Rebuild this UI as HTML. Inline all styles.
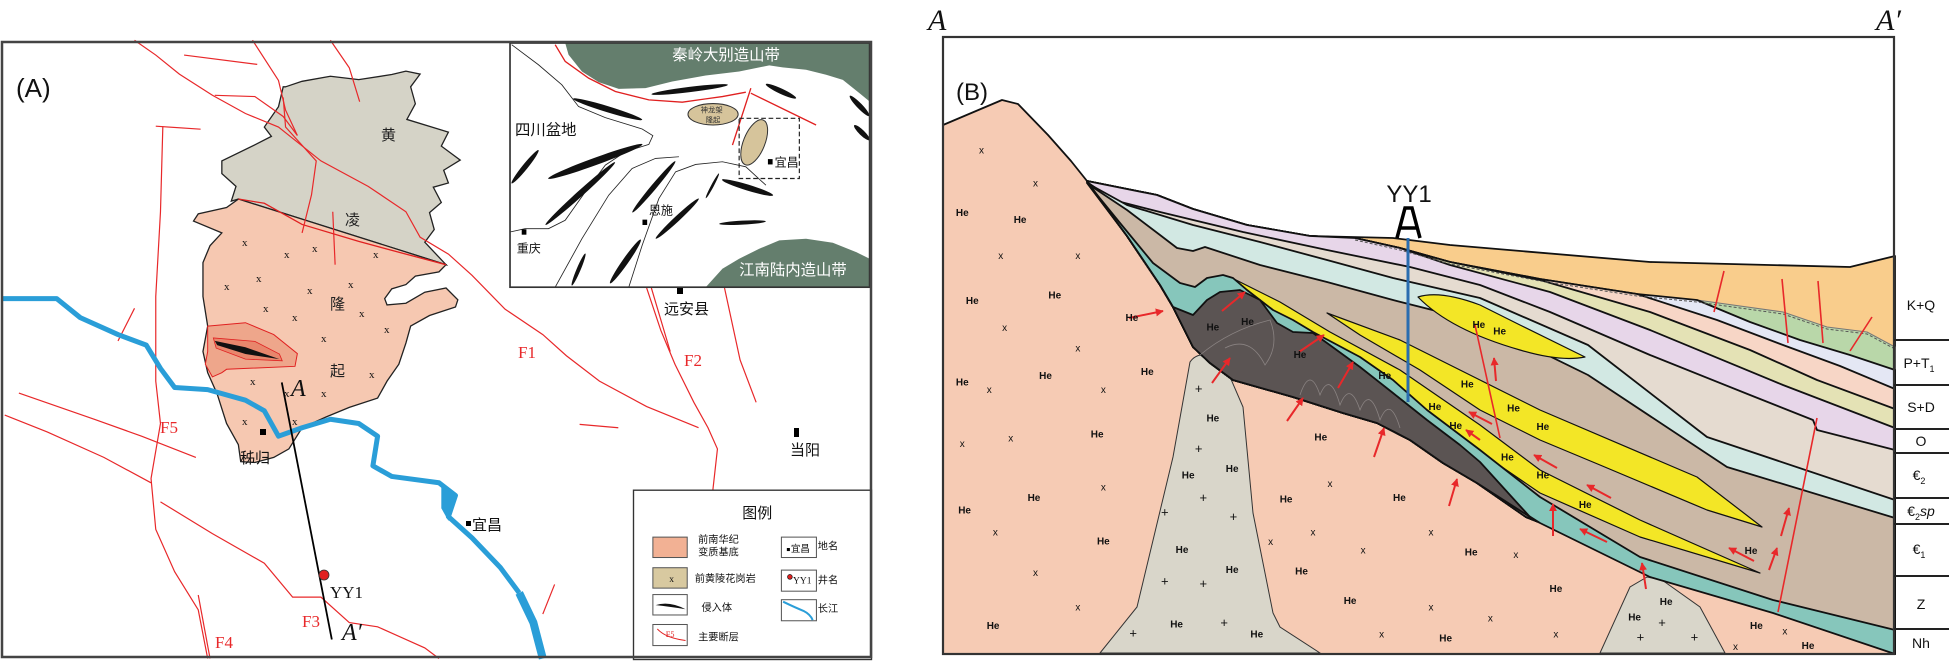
<!DOCTYPE html>
<html><head><meta charset="utf-8"><style>
html,body{margin:0;padding:0;background:#fff;}
svg{display:block;}
.cj{font-family:"Liberation Sans","Noto Sans CJK SC",sans-serif;}
.sr{font-family:"Liberation Serif","Noto Serif CJK SC",serif;}
.he{font-family:"Liberation Sans",sans-serif;font-size:10px;font-weight:bold;fill:#111;}
</style></head><body>
<svg width="1949" height="664" viewBox="0 0 1949 664" xmlns="http://www.w3.org/2000/svg">
<rect width="1949" height="664" fill="#fff"/>
<defs>
<marker id="ah" viewBox="0 0 10 10" refX="9" refY="5" markerWidth="4" markerHeight="4" orient="auto"><path d="M0,0 L10,5 L0,10 z" fill="#e8282a"/></marker>
</defs>

<!-- ================= PANEL A ================= -->
<g transform="scale(0.4720,0.4235)">
 <polygon vector-effect="non-scaling-stroke" points="605,205 640,192 700,180 760,188 830,176 860,168 890,175 870,205 880,245 862,282 950,312 935,345 975,378 940,402 950,432 918,442 935,478 910,502 920,542 900,572 945,625 505,470 490,475 500,440 470,410 470,380 540,342 575,322 560,300 590,252 600,205" fill="#d5d3c7" stroke="#222" stroke-width="1.3"/>
 <polygon vector-effect="non-scaling-stroke" points="505,470 945,625 930,642 880,652 860,672 830,682 815,705 820,720 860,716 900,690 945,680 970,708 965,725 910,745 870,770 860,810 845,860 820,900 800,940 740,962 690,985 640,1010 612,1060 580,1080 540,1092 510,1090 505,1050 480,1000 460,930 440,880 430,830 440,770 430,700 430,620 445,580 470,550 410,522 420,505 480,490" fill="#f6c8b1" stroke="#222" stroke-width="1.3"/>
 <polyline vector-effect="non-scaling-stroke" points="505,470 560,480 640,530 760,570 860,600 945,625" fill="none" stroke="#e02020" stroke-width="1.3"/>
 <polygon vector-effect="non-scaling-stroke" points="440,770 520,762 580,790 630,835 625,865 480,872 470,880 450,890 435,860 440,830" fill="#eea68b" stroke="#e02020" stroke-width="1"/>
 <polygon vector-effect="non-scaling-stroke" points="452,798 540,806 592,836 598,852 520,848 458,822" fill="#e8866c" stroke="#e02020" stroke-width="0.8"/>
 <polygon points="455,805 520,820 592,848 520,836 460,815" fill="#111"/>
 <!-- faults -->
 <g fill="none" stroke="#e8282a" stroke-width="1.2">
  <polyline vector-effect="non-scaling-stroke" points="285,95 330,130 380,175 450,225 520,268 590,300 680,380 780,440 860,500 890,560 950,600 1000,650 1070,730 1150,790 1200,840 1270,900 1370,960 1480,1010"/>
  <polyline vector-effect="non-scaling-stroke" points="535,95 590,190 605,260 630,320"/>
  <polyline vector-effect="non-scaling-stroke" points="600,230 605,300 670,380 660,460 640,550"/>
  <polyline vector-effect="non-scaling-stroke" points="700,95 740,160 762,240"/>
  <polyline vector-effect="non-scaling-stroke" points="390,130 545,152"/>
  <polyline vector-effect="non-scaling-stroke" points="455,225 540,228 600,275 630,320"/>
  <polyline vector-effect="non-scaling-stroke" points="705,500 710,625"/>
  <polyline vector-effect="non-scaling-stroke" points="330,298 425,305"/>
  <polyline vector-effect="non-scaling-stroke" points="345,298 340,500 330,700 330,900 340,1000 320,1130 330,1250 370,1350 420,1440 440,1555"/>
  <polyline vector-effect="non-scaling-stroke" points="285,728 250,805"/>
  <polyline vector-effect="non-scaling-stroke" points="40,928 200,990 300,1030 415,1080"/>
  <polyline vector-effect="non-scaling-stroke" points="10,980 100,1020 220,1080 320,1140"/>
  <polyline vector-effect="non-scaling-stroke" points="340,1185 450,1260 560,1330 620,1410 680,1410 740,1470 800,1480 900,1530 930,1555"/>
  <polyline vector-effect="non-scaling-stroke" points="420,1405 445,1555"/>
  <polyline vector-effect="non-scaling-stroke" points="1228,1002 1310,1010"/>
  <polyline vector-effect="non-scaling-stroke" points="1175,1380 1150,1450"/>
  <polyline vector-effect="non-scaling-stroke" points="1370,680 1400,780 1430,860 1470,950 1500,1010 1520,1060 1510,1160"/>
  <polyline vector-effect="non-scaling-stroke" points="1380,680 1420,830"/>
  <polyline vector-effect="non-scaling-stroke" points="1535,680 1568,850 1602,950"/>
 </g>
 <!-- river -->
 <polyline vector-effect="non-scaling-stroke" points="5,705 120,705 170,750 250,790 310,815 340,870 370,915 440,920 520,945 560,970 590,1030 640,1010 700,990 760,1000 800,1030 790,1100 830,1125 930,1140 965,1170 950,1220 1000,1270 1060,1340 1100,1400" fill="none" stroke="#2a9ed8" stroke-width="5" stroke-linejoin="round"/>
 <polyline vector-effect="non-scaling-stroke" points="1100,1400 1130,1470 1150,1555" fill="none" stroke="#2a9ed8" stroke-width="8"/>
 <polygon points="935,1150 965,1170 950,1230 935,1200" fill="#2a9ed8"/>
 <!-- section line -->
 <line vector-effect="non-scaling-stroke" x1="597" y1="903" x2="703" y2="1510" stroke="#000" stroke-width="1.8"/>
</g>
<!-- x marks panel A -->
<g class="sr" font-size="11" fill="#111">
 <text x="242" y="246">x</text><text x="284" y="258">x</text><text x="312" y="252">x</text><text x="373" y="258">x</text>
 <text x="224" y="290">x</text><text x="256" y="282">x</text><text x="307" y="294">x</text><text x="348" y="288">x</text>
 <text x="263" y="312">x</text><text x="292" y="321">x</text><text x="359" y="317">x</text><text x="384" y="333">x</text>
 <text x="321" y="342">x</text><text x="250" y="385">x</text><text x="369" y="378">x</text><text x="321" y="397">x</text>
 <text x="284" y="397">x</text><text x="242" y="425">x</text><text x="292" y="425">x</text>
</g>
<g class="cj" font-size="15" fill="#222">
 <text x="381" y="140">黄</text><text x="345" y="225">凌</text><text x="330" y="309">隆</text><text x="330" y="376">起</text>
</g>
<rect x="260" y="429" width="6" height="6" fill="#000"/>
<text x="240" y="463" class="cj" font-size="15" fill="#111">秭归</text>
<rect x="466" y="521" width="5" height="5" fill="#000"/>
<text x="472" y="530" class="cj" font-size="15" fill="#111">宜昌</text>
<rect x="677" y="288" width="6" height="6" fill="#000"/>
<text x="664" y="314" class="cj" font-size="15" fill="#111">远安县</text>
<rect x="794" y="428" width="5" height="9" fill="#000"/>
<text x="790" y="455" class="cj" font-size="15" fill="#111">当阳</text>
<g class="sr" font-size="17" fill="#e8282a">
 <text x="518" y="358">F1</text><text x="684" y="366">F2</text><text x="302" y="627">F3</text><text x="215" y="648">F4</text><text x="160" y="433">F5</text>
</g>
<circle cx="324" cy="575" r="5" fill="#e02020" stroke="#333" stroke-width="0.8"/>
<text x="330" y="598" class="sr" font-size="17" fill="#111">YY1</text>
<text x="291" y="396" class="sr" font-size="24" font-style="italic" fill="#111">A</text>
<text x="342" y="640" class="sr" font-size="24" font-style="italic" fill="#111">A′</text>
<text x="16" y="97" class="cj" font-size="26" fill="#111">(A)</text>

<!-- inset -->
<g transform="translate(505,38) scale(0.3345)">
 <rect x="15" y="15" width="1075" height="730" fill="#fff"/>
 <polygon points="180,15 1090,15 1090,190 1060,165 1010,125 960,110 900,95 830,88 790,82 700,100 600,112 500,130 420,150 340,152 280,132 230,100 190,50" fill="#647e6d"/>
 <polygon points="600,745 650,690 700,660 760,630 820,605 900,600 980,612 1050,640 1090,660 1090,745" fill="#647e6d"/>
 <g fill="none" stroke="#222" stroke-width="2.5">
  <polyline points="20,20 100,80 170,140 220,205 300,238 410,272 442,292 430,318 360,340 300,380 240,460 180,545 130,570 60,570 15,580"/>
  <polyline points="150,745 230,600 310,470 380,390 450,360 520,355"/>
  <polyline points="370,745 410,620 460,480 510,400 570,378 650,370 720,385 780,440"/>
 </g>
 <g fill="#111">
  <ellipse cx="552" cy="154" rx="115" ry="8" transform="rotate(-7 552 154)"/>
  <ellipse cx="825" cy="159" rx="50" ry="8" transform="rotate(25 825 159)"/>
  <ellipse cx="307" cy="213" rx="108" ry="9" transform="rotate(17 307 213)"/>
  <ellipse cx="1060" cy="203" rx="42" ry="8" transform="rotate(46 1060 203)"/>
  <ellipse cx="1067" cy="283" rx="32" ry="8" transform="rotate(44 1067 283)"/>
  <ellipse cx="60" cy="385" rx="64" ry="8" transform="rotate(-51 60 385)"/>
  <ellipse cx="270" cy="369" rx="150" ry="11" transform="rotate(-20 270 369)"/>
  <ellipse cx="225" cy="465" rx="140" ry="9" transform="rotate(-42 225 465)"/>
  <ellipse cx="445" cy="445" rx="100" ry="8" transform="rotate(-50 445 445)"/>
  <ellipse cx="620" cy="442" rx="42" ry="4" transform="rotate(-62 620 442)"/>
  <ellipse cx="725" cy="447" rx="80" ry="9" transform="rotate(17 725 447)"/>
  <ellipse cx="515" cy="540" rx="88" ry="8" transform="rotate(-43 515 540)"/>
  <ellipse cx="360" cy="668" rx="80" ry="9" transform="rotate(-55 360 668)"/>
  <ellipse cx="220" cy="692" rx="52" ry="6" transform="rotate(-67 220 692)"/>
  <ellipse cx="710" cy="552" rx="70" ry="6" transform="rotate(-3 710 552)"/>
 </g>
 <polyline points="150,20 180,70 250,120 330,160 430,185 530,192 600,182 650,175 720,162" fill="none" stroke="#e02020" stroke-width="4"/>
 <line x1="735" y1="150" x2="680" y2="320" stroke="#e02020" stroke-width="4"/>
 <line x1="735" y1="165" x2="930" y2="260" stroke="#e02020" stroke-width="4"/>
 <ellipse cx="622" cy="228" rx="75" ry="32" fill="#d6c49b" stroke="#333" stroke-width="3"/>
 <ellipse cx="745" cy="312" rx="32" ry="72" fill="#d6c49b" stroke="#333" stroke-width="3" transform="rotate(22 745 312)"/>
 <text x="585" y="222" class="cj" font-size="22" fill="#333">神龙架</text><text x="600" y="252" class="cj" font-size="22" fill="#333">隆起</text>
 <rect x="700" y="240" width="180" height="180" fill="none" stroke="#222" stroke-width="3.5" stroke-dasharray="14,8"/>
 <rect x="786" y="362" width="14" height="16" fill="#000"/>
 <rect x="411" y="543" width="14" height="16" fill="#000"/>
 <rect x="50" y="572" width="14" height="16" fill="#000"/>
 <text x="500" y="66" class="cj" font-size="46" fill="#fff">秦岭大别造山带</text>
 <text x="30" y="290" class="cj" font-size="46" fill="#111">四川盆地</text>
 <text x="806" y="384" class="cj" font-size="36" fill="#111">宜昌</text>
 <text x="430" y="528" class="cj" font-size="36" fill="#111">恩施</text>
 <text x="35" y="642" class="cj" font-size="36" fill="#111">重庆</text>
 <text x="700" y="708" class="cj" font-size="46" fill="#fff">江南陆内造山带</text>
 <rect x="15" y="15" width="1075" height="730" fill="none" stroke="#333" stroke-width="5"/>
</g>

<!-- legend -->
<g transform="translate(625,480) scale(0.34)">
 <rect x="25" y="30" width="700" height="498" fill="#fff" stroke="#333" stroke-width="4"/>
 <text x="345" y="112" class="cj" font-size="44" fill="#111">图例</text>
 <rect x="82" y="168" width="101" height="60" fill="#f2b194" stroke="#555" stroke-width="3"/>
 <rect x="82" y="258" width="101" height="60" fill="#d8c9a0" stroke="#555" stroke-width="3"/>
 <text x="130" y="300" class="sr" font-size="28" fill="#111">x</text>
 <rect x="82" y="337" width="101" height="60" fill="#fff" stroke="#555" stroke-width="3"/>
 <path d="M90,368 Q130,355 178,380 Q130,372 90,368Z" fill="#111"/>
 <rect x="82" y="425" width="101" height="62" fill="#fff" stroke="#555" stroke-width="3"/>
 <path d="M95,438 Q120,465 178,472" fill="none" stroke="#e02020" stroke-width="3"/>
 <text x="120" y="462" class="sr" font-size="24" fill="#e02020">F5</text>
 <g class="cj" font-size="30" fill="#111">
  <text x="215" y="185">前南华纪</text><text x="215" y="222">变质基底</text>
  <text x="205" y="300">前黄陵花岗岩</text><text x="225" y="385">侵入体</text><text x="215" y="472">主要断层</text>
  <text x="567" y="205">地名</text><text x="567" y="305">井名</text><text x="567" y="388">长江</text>
 </g>
 <rect x="460" y="168" width="103" height="60" fill="#fff" stroke="#555" stroke-width="3"/>
 <rect x="476" y="200" width="9" height="9" fill="#000"/><text x="488" y="212" class="cj" font-size="28" fill="#111">宜昌</text>
 <rect x="460" y="265" width="103" height="62" fill="#fff" stroke="#555" stroke-width="3"/>
 <circle cx="485" cy="285" r="7" fill="#e02020" stroke="#111" stroke-width="2"/><text x="494" y="305" class="sr" font-size="28" fill="#111">YY1</text>
 <rect x="460" y="352" width="103" height="62" fill="#fff" stroke="#555" stroke-width="3"/>
 <path d="M465,358 Q500,375 525,385 Q545,395 552,412" fill="none" stroke="#2a9ed8" stroke-width="6"/>
</g>
<rect x="2" y="42" width="869" height="615" fill="none" stroke="#444" stroke-width="2.5"/>

<!-- ================= PANEL B ================= -->
<polygon points="943,125 1002,100 1018,104 1048,135 1071,161 1087,181 1894,654 943,654" fill="#f6cbb4"/>
<!-- domes -->
<path d="M1100,653 L1137,607 L1173,457 L1190,362 Q1197,352 1210,356 L1227,370 L1243,407 L1253,513 L1273,613 L1280,627 L1320,653Z" fill="#d9d6ca" stroke="#333" stroke-width="1"/>
<path d="M1600,653 L1630,587 L1647,577 L1662,580 L1700,607 L1725,653Z" fill="#d9d6ca" stroke="#333" stroke-width="1"/>
<g stroke="#111" stroke-width="1.8" stroke-linejoin="round">
 <!-- orange -->
 <polygon fill="#f9cd8c" points="1087,181 1157,195 1193,209 1247,225 1310,236 1393,238 1450,245 1650,262 1850,267 1895,256 1895,654 1742,597 1642,563 1526,517 1477,483 1443,463 1410,440 1377,423 1343,413 1293,397 1233,380 1210,363 1193,347 1173,307 1160,285 1127,236"/>
 <!-- green -->
 <polygon fill="#b9d7a9" stroke="#777" stroke-width="1" points="1087,181 1157,195 1193,209 1247,225 1310,236 1355,238 1400,248 1450,262 1540,279 1637,294 1697,300 1783,312 1827,327 1867,332 1895,347 1895,654 1742,597 1642,563 1526,517 1477,483 1443,463 1410,440 1377,423 1343,413 1293,397 1233,380 1210,363 1193,347 1173,307 1160,285 1127,236"/>
 <!-- blue-white -->
 <polygon fill="#e4e7f4" points="1087,181 1157,195 1193,209 1247,225 1310,236 1355,238 1400,248 1450,262 1540,279 1637,294 1697,300 1750,322 1800,340 1850,355 1895,370 1895,654 1742,597 1642,563 1526,517 1477,483 1443,463 1410,440 1377,423 1343,413 1293,397 1233,380 1210,363 1193,347 1173,307 1160,285 1127,236"/>
 <!-- pink -->
 <polygon fill="#f7d6c6" points="1087,181 1157,195 1193,209 1247,225 1310,236 1355,238 1400,248 1450,262 1540,279 1637,294 1717,320 1783,345 1840,366 1895,389 1895,654 1742,597 1642,563 1526,517 1477,483 1443,463 1410,440 1377,423 1343,413 1293,397 1233,380 1210,363 1193,347 1173,307 1160,285 1127,236"/>
 <!-- yellow-green -->
 <polygon fill="#e4e2b5" points="1087,181 1157,195 1193,209 1247,225 1310,236 1355,238 1400,248 1450,262 1540,280 1650,312 1750,350 1817,380 1895,409 1895,654 1742,597 1642,563 1526,517 1477,483 1443,463 1410,440 1377,423 1343,413 1293,397 1233,380 1210,363 1193,347 1173,307 1160,285 1127,236"/>
 <!-- lavender -->
 <polygon fill="#e7d6e9" points="1087,181 1157,195 1193,209 1247,225 1310,236 1355,238 1400,248 1450,265 1550,292 1650,330 1783,385 1895,428 1895,654 1742,597 1642,563 1526,517 1477,483 1443,463 1410,440 1377,423 1343,413 1293,397 1233,380 1210,363 1193,347 1173,307 1160,285 1127,236"/>
 <!-- beige -->
 <polygon fill="#e5dbd0" points="1087,182 1113,200 1160,212 1243,232 1327,250 1410,267 1480,285 1550,312 1650,355 1750,395 1813,420 1817,430 1895,450 1895,654 1742,597 1642,563 1526,517 1477,483 1443,463 1410,440 1377,423 1343,413 1293,397 1233,380 1210,363 1193,347 1173,307 1160,285 1127,236"/>
 <!-- pale teal -->
 <polygon fill="#d2e8e3" points="1087,183 1127,205 1193,225 1260,242 1327,260 1393,278 1480,298 1588,345 1707,437 1895,500 1895,654 1742,597 1642,563 1526,517 1477,483 1443,463 1410,440 1377,423 1343,413 1293,397 1233,380 1210,363 1193,347 1173,307 1160,285 1127,236"/>
 <!-- tan -->
 <polygon fill="#cbb8a6" points="1088,184 1127,210 1160,235 1177,248 1193,251 1205,247 1260,265 1327,282 1393,300 1480,322 1588,375 1727,467 1895,518 1895,654 1742,597 1642,563 1526,517 1477,483 1443,463 1410,440 1377,423 1343,413 1293,397 1233,380 1210,363 1193,347 1173,307 1160,285 1127,236"/>
 <!-- yellow lenses -->
 <path fill="#f3e626" stroke-width="1.2" d="M1418,297 Q1440,290 1480,305 L1520,325 L1585,357 Q1560,362 1520,350 Q1450,330 1418,297Z"/>
 <path fill="#f3e626" stroke-width="1.2" d="M1327,313 L1400,340 L1480,380 L1540,410 L1697,477 L1762,527 L1707,510 L1600,465 L1540,440 L1480,410 L1420,370 L1360,335Z"/>
 <path fill="#f3e626" stroke-width="1.2" d="M1230,277 L1280,302 L1330,332 L1400,370 L1480,425 L1540,470 L1640,520 L1760,573 L1640,537 L1540,493 L1480,452 L1400,395 L1330,352 L1260,305Z"/>
 <!-- teal -->
 <polygon fill="#86c6bb" points="1089,185 1120,223 1153,263 1180,283 1195,287 1207,278 1223,275 1233,278 1247,290 1273,310 1293,320 1313,332 1360,357 1393,380 1427,410 1480,450 1540,497 1640,557 1773,600 1895,630 1895,654 1773,613 1650,577 1540,523 1477,483 1443,463 1410,440 1377,423 1343,413 1293,397 1233,380 1210,363 1193,347 1173,307 1160,285 1127,236"/>
 <!-- dark body -->
 <polygon fill="#5b5453" points="1173,307 1193,315 1207,300 1220,292 1240,290 1260,300 1277,323 1293,332 1313,333 1327,343 1360,367 1393,393 1427,420 1460,445 1480,462 1530,517 1477,483 1443,463 1410,440 1377,423 1343,413 1293,397 1233,380 1210,363 1193,347"/>
 <!-- mountain outline -->
 <polyline fill="none" points="943,125 1002,100 1018,104 1048,135 1071,161 1087,181 1127,236 1160,285 1173,307"/>
</g>
<!-- folds in dark body -->
<g fill="none" stroke="#8a8382" stroke-width="0.8">
 <path d="M1200,355 Q1230,330 1270,320 Q1280,345 1265,365 Q1250,335 1225,348"/>
 <path d="M1300,395 Q1310,365 1320,395 Q1330,370 1340,405 Q1350,380 1360,410 Q1370,385 1380,420 Q1390,395 1400,428"/>
</g>
<!-- wavy unconformity -->
<polyline fill="none" stroke="#555" stroke-width="1" stroke-dasharray="3,2" points="1355,240 1400,250 1450,264 1540,281 1637,296 1697,302 1783,314 1827,329 1867,334 1895,349"/>
<!-- faults B -->
<g stroke="#e8282a" stroke-width="1.6" fill="none">
 <line x1="1724" y1="271" x2="1714" y2="312"/><line x1="1782" y1="279" x2="1788" y2="343"/>
 <line x1="1818" y1="281" x2="1823" y2="343"/><line x1="1872" y1="317" x2="1850" y2="351"/>
 <line x1="1817" y1="418" x2="1778" y2="612"/><line x1="1475" y1="325" x2="1500" y2="438"/>
</g>
<!-- arrows -->
<g stroke="#e8282a" stroke-width="2" marker-end="url(#ah)">
 <line x1="1129" y1="318" x2="1163" y2="311"/><line x1="1222" y1="311" x2="1245" y2="292"/>
 <line x1="1299" y1="352" x2="1324" y2="335"/><line x1="1212" y1="383" x2="1230" y2="358"/>
 <line x1="1338" y1="388" x2="1353" y2="362"/><line x1="1287" y1="421" x2="1303" y2="398"/>
 <line x1="1374" y1="457" x2="1384" y2="428"/><line x1="1449" y1="506" x2="1457" y2="479"/>
 <line x1="1492" y1="424" x2="1469" y2="412"/><line x1="1557" y1="468" x2="1534" y2="455"/>
 <line x1="1611" y1="498" x2="1587" y2="485"/><line x1="1607" y1="542" x2="1580" y2="529"/>
 <line x1="1553" y1="536" x2="1553" y2="504"/><line x1="1754" y1="561" x2="1729" y2="548"/>
 <line x1="1769" y1="570" x2="1777" y2="548"/><line x1="1781" y1="536" x2="1789" y2="508"/>
 <line x1="1646" y1="589" x2="1642" y2="563"/><line x1="1480" y1="440" x2="1466" y2="430"/>
 <line x1="1496" y1="381" x2="1494" y2="358"/>
</g>
<!-- He, x, + labels -->
<g transform="translate(740,0) scale(0.771,0.4235)" class="he">
 <g>
 <text transform="translate(280,510) scale(1.297,2.361)">He</text><text transform="translate(355,527) scale(1.297,2.361)">He</text>
 <text transform="translate(293,718) scale(1.297,2.361)">He</text><text transform="translate(400,705) scale(1.297,2.361)">He</text>
 <text transform="translate(500,758) scale(1.297,2.361)">He</text><text transform="translate(280,910) scale(1.297,2.361)">He</text>
 <text transform="translate(388,895) scale(1.297,2.361)">He</text><text transform="translate(520,885) scale(1.297,2.361)">He</text>
 <text transform="translate(605,780) scale(1.297,2.361)">He</text><text transform="translate(650,768) scale(1.297,2.361)">He</text>
 <text transform="translate(718,845) scale(1.297,2.361)">He</text><text transform="translate(828,895) scale(1.297,2.361)">He</text>
 <text transform="translate(935,915) scale(1.297,2.361)">He</text><text transform="translate(893,968) scale(1.297,2.361)">He</text>
 <text transform="translate(920,1013) scale(1.297,2.361)">He</text><text transform="translate(995,972) scale(1.297,2.361)">He</text>
 <text transform="translate(1033,1015) scale(1.297,2.361)">He</text><text transform="translate(987,1087) scale(1.297,2.361)">He</text>
 <text transform="translate(1033,1130) scale(1.297,2.361)">He</text><text transform="translate(1088,1200) scale(1.297,2.361)">He</text>
 <text transform="translate(1303,1308) scale(1.297,2.361)">He</text><text transform="translate(950,775) scale(1.297,2.361)">He</text>
 <text transform="translate(977,790) scale(1.297,2.361)">He</text><text transform="translate(605,995) scale(1.297,2.361)">He</text>
 <text transform="translate(455,1033) scale(1.297,2.361)">He</text><text transform="translate(745,1040) scale(1.297,2.361)">He</text>
 <text transform="translate(573,1130) scale(1.297,2.361)">He</text><text transform="translate(630,1115) scale(1.297,2.361)">He</text>
 <text transform="translate(373,1183) scale(1.297,2.361)">He</text><text transform="translate(283,1212) scale(1.297,2.361)">He</text>
 <text transform="translate(700,1187) scale(1.297,2.361)">He</text><text transform="translate(847,1183) scale(1.297,2.361)">He</text>
 <text transform="translate(463,1286) scale(1.297,2.361)">He</text><text transform="translate(565,1306) scale(1.297,2.361)">He</text>
 <text transform="translate(630,1353) scale(1.297,2.361)">He</text><text transform="translate(720,1357) scale(1.297,2.361)">He</text>
 <text transform="translate(940,1312) scale(1.297,2.361)">He</text><text transform="translate(783,1426) scale(1.297,2.361)">He</text>
 <text transform="translate(1050,1398) scale(1.297,2.361)">He</text><text transform="translate(1193,1428) scale(1.297,2.361)">He</text>
 <text transform="translate(1152,1465) scale(1.297,2.361)">He</text><text transform="translate(320,1485) scale(1.297,2.361)">He</text>
 <text transform="translate(558,1482) scale(1.297,2.361)">He</text><text transform="translate(662,1505) scale(1.297,2.361)">He</text>
 <text transform="translate(907,1515) scale(1.297,2.361)">He</text><text transform="translate(1310,1485) scale(1.297,2.361)">He</text>
 <text transform="translate(1377,1532) scale(1.297,2.361)">He</text>
 </g>
 <g font-weight="normal">
 <text transform="translate(310,362) scale(1.297,2.361)">x</text><text transform="translate(380,440) scale(1.297,2.361)">x</text>
 <text transform="translate(335,612) scale(1.297,2.361)">x</text><text transform="translate(435,612) scale(1.297,2.361)">x</text>
 <text transform="translate(340,782) scale(1.297,2.361)">x</text><text transform="translate(435,830) scale(1.297,2.361)">x</text>
 <text transform="translate(320,928) scale(1.297,2.361)">x</text><text transform="translate(468,928) scale(1.297,2.361)">x</text>
 <text transform="translate(285,1055) scale(1.297,2.361)">x</text><text transform="translate(348,1042) scale(1.297,2.361)">x</text>
 <text transform="translate(468,1158) scale(1.297,2.361)">x</text><text transform="translate(762,1150) scale(1.297,2.361)">x</text>
 <text transform="translate(328,1265) scale(1.297,2.361)">x</text><text transform="translate(685,1287) scale(1.297,2.361)">x</text>
 <text transform="translate(740,1265) scale(1.297,2.361)">x</text><text transform="translate(805,1307) scale(1.297,2.361)">x</text>
 <text transform="translate(893,1265) scale(1.297,2.361)">x</text><text transform="translate(1003,1318) scale(1.297,2.361)">x</text>
 <text transform="translate(380,1360) scale(1.297,2.361)">x</text><text transform="translate(435,1442) scale(1.297,2.361)">x</text>
 <text transform="translate(893,1442) scale(1.297,2.361)">x</text><text transform="translate(970,1468) scale(1.297,2.361)">x</text>
 <text transform="translate(829,1505) scale(1.297,2.361)">x</text><text transform="translate(1055,1505) scale(1.297,2.361)">x</text>
 <text transform="translate(1352,1498) scale(1.297,2.361)">x</text><text transform="translate(1288,1535) scale(1.297,2.361)">x</text>
 <text transform="translate(590,928) scale(1.297,2.361)" font-size="13">+</text><text transform="translate(590,1070) scale(1.297,2.361)" font-size="13">+</text>
 <text transform="translate(596,1185) scale(1.297,2.361)" font-size="13">+</text><text transform="translate(546,1220) scale(1.297,2.361)" font-size="13">+</text>
 <text transform="translate(635,1230) scale(1.297,2.361)" font-size="13">+</text><text transform="translate(546,1383) scale(1.297,2.361)" font-size="13">+</text>
 <text transform="translate(596,1388) scale(1.297,2.361)" font-size="13">+</text><text transform="translate(505,1505) scale(1.297,2.361)" font-size="13">+</text>
 <text transform="translate(623,1480) scale(1.297,2.361)" font-size="13">+</text><text transform="translate(1191,1480) scale(1.297,2.361)" font-size="13">+</text>
 <text transform="translate(1163,1515) scale(1.297,2.361)" font-size="13">+</text><text transform="translate(1233,1515) scale(1.297,2.361)" font-size="13">+</text>
 </g>
</g>
<!-- YY1 well -->
<line x1="1408" y1="238" x2="1408" y2="402" stroke="#2a6db0" stroke-width="3"/>
<path d="M1397,238 L1405,208 L1412,208 L1420,238 M1401,228 L1416,228" fill="none" stroke="#000" stroke-width="3.5"/>
<text x="1409" y="202" class="cj" font-size="24" fill="#111" text-anchor="middle">YY1</text>
<text x="956" y="100" class="cj" font-size="24" fill="#111">(B)</text>
<text x="928" y="30" class="sr" font-size="30" font-style="italic" fill="#111">A</text>
<text x="1876" y="30" class="sr" font-size="30" font-style="italic" fill="#111">A′</text>
<!-- frame & column -->
<rect x="943" y="37" width="951" height="617" fill="none" stroke="#333" stroke-width="2.2"/>
<g stroke="#222" stroke-width="2">
 <line x1="1894" y1="340" x2="1949" y2="340"/><line x1="1894" y1="385" x2="1949" y2="385"/>
 <line x1="1894" y1="429" x2="1949" y2="429"/><line x1="1894" y1="453" x2="1949" y2="453"/>
 <line x1="1894" y1="498" x2="1949" y2="498"/><line x1="1894" y1="524" x2="1949" y2="524"/>
 <line x1="1894" y1="576" x2="1949" y2="576"/><line x1="1894" y1="629" x2="1949" y2="629"/>
</g>
<g class="cj" font-size="14" fill="#111" text-anchor="middle">
 <text x="1921" y="310">K+Q</text>
 <text x="1919" y="368">P+T<tspan font-size="9" dy="4">1</tspan></text>
 <text x="1921" y="412">S+D</text>
 <text x="1921" y="446">O</text>
 <text x="1919" y="480">€<tspan font-size="9" dy="4">2</tspan></text>
 <text x="1921" y="516">€<tspan font-size="9" dy="4">2</tspan><tspan dy="-4" font-style="italic">sp</tspan></text>
 <text x="1919" y="554">€<tspan font-size="9" dy="4">1</tspan></text>
 <text x="1921" y="609">Z</text>
 <text x="1921" y="648">Nh</text>
</g>
</svg>
</body></html>
